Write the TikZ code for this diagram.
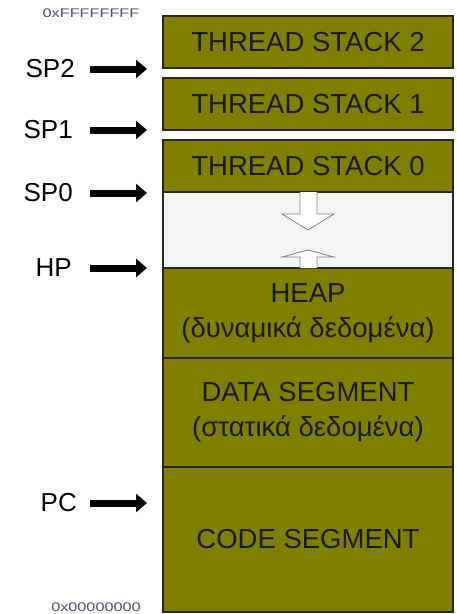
\documentclass[tikz,border=0pt]{standalone}
\usepackage{fontspec}
\setmainfont{Liberation Sans}
\usetikzlibrary{arrows.meta}
\definecolor{segolive}{RGB}{128,128,0}
\definecolor{freezone}{RGB}{240,247,240}
\definecolor{addrink}{RGB}{85,75,120}

\begin{document}
\begin{tikzpicture}[x=1pt,y=-1pt,line join=miter,
  seg/.style={draw=black!85,line width=1.6pt,fill=segolive,minimum width=290pt,inner sep=0pt,
    font=\fontsize{27.5}{35}\selectfont,text=black!90,align=center},
  ptrlabel/.style={anchor=east,inner sep=0pt,font=\fontsize{26}{30}\selectfont},
  ptr/.style={line width=7pt,-{Triangle[length=11pt,width=18pt]}},
  addr/.style={inner sep=0pt,text=addrink,font=\fontsize{12.5}{14}\selectfont,xscale=1.3},
  growarrow/.style={draw=gray,fill=white,line width=0.8pt}]
\useasboundingbox (0,0) rectangle (457,614);
% segments, top to bottom
\node[seg,minimum height=52pt] (ts2) at (308,42) {THREAD STACK 2};
\node[seg,minimum height=52pt] (ts1) at (308,104) {THREAD STACK 1};
\node[seg,minimum height=52pt] (ts0) at (308,166) {THREAD STACK 0};
\node[seg,fill=freezone,minimum height=76pt] (free) at (308,230) {};
\node[seg,minimum height=90pt] (heap) at (308,313) {HEAP\\(δυναμικά δεδομένα)};
\node[seg,minimum height=109pt] (data) at (308,412.5) {DATA SEGMENT\\(στατικά δεδομένα)};
\node[seg,minimum height=145pt] (code) at (308,539.5) {CODE SEGMENT};
% stack grows down, heap grows up
\draw[growarrow] (300,192) -- (300,214) -- (282,214) -- (308,230) -- (334,214) -- (317,214) -- (317,192);
\draw[growarrow] (300,268) -- (300,257) -- (282,257) -- (308,250) -- (334,257) -- (317,257) -- (317,268);
% addresses
\node[addr] (top) at (91,13.5) {0xFFFFFFFF};
\node[addr] (bottom) at (96,607.5) {0x00000000};
% pointers
\coordinate (tip) at (147,0);
\node[ptrlabel] (sp2) at (75,69) {SP2};
\node[ptrlabel] (sp1) at (73,130) {SP1};
\node[ptrlabel] (sp0) at (73,193) {SP0};
\node[ptrlabel] (hp) at (72,268) {HP};
\node[ptrlabel] (pc) at (77,503) {PC};
\draw[ptr] ([xshift=15pt]sp2.east) -- (sp2 -| tip);
\draw[ptr] ([xshift=17pt]sp1.east) -- (sp1 -| tip);
\draw[ptr] ([xshift=17pt]sp0.east) -- (sp0 -| tip);
\draw[ptr] ([xshift=18pt]hp.east) -- (hp -| tip);
\draw[ptr] ([xshift=13pt]pc.east) -- (pc -| tip);
\end{tikzpicture}
\end{document}
